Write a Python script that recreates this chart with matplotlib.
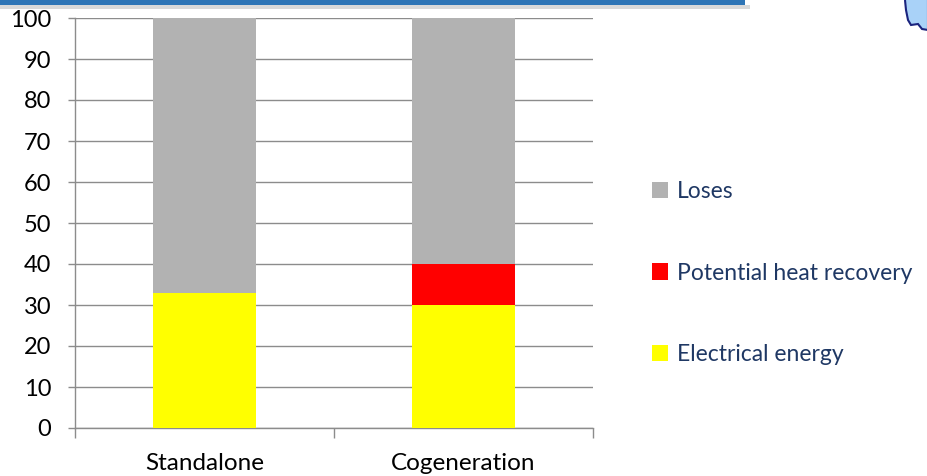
import matplotlib
matplotlib.use("Agg")
import matplotlib.pyplot as plt
from matplotlib.patches import Rectangle, Polygon
import numpy as np

categories = ["Standalone", "Cogeneration"]
electrical = [33, 30]
heat_recovery = [0, 10]
loses = [67, 60]
yticks = list(range(0, 101, 10))

plt.rcParams['font.family'] = ['Lato', 'DejaVu Sans']

W, H = 928, 476
fig = plt.figure(figsize=(W/100, H/100), dpi=100)
ax = fig.add_axes([75/W, 1-428/H, (593-75)/W, (428-18)/H])

x = np.arange(len(categories))
bw = 0.4
b1 = ax.bar(x, electrical, bw, color="#FFFF00", label="Electrical energy", zorder=3)
b2 = ax.bar(x, heat_recovery, bw, bottom=electrical, color="#FF0000", label="Potential heat recovery", zorder=3)
bottom2 = [e + h for e, h in zip(electrical, heat_recovery)]
b3 = ax.bar(x, loses, bw, bottom=bottom2, color="#B2B2B2", label="Loses", zorder=3)

ax.set_xlim(-0.5, len(categories) - 0.5)
ax.set_ylim(0, 100)
ax.set_yticks(yticks)
ax.yaxis.grid(True, color="#8C8C8C", linewidth=1, zorder=0)
ax.set_xticks(x)
ax.set_xticklabels(categories, fontsize=17.5)
ax.set_xticks(np.arange(-0.5, len(categories), 1.0), minor=True)
ax.tick_params(axis='x', which='major', length=0, pad=18)
ax.tick_params(axis='x', which='minor', length=7, color="#8C8C8C", width=1)
ax.tick_params(axis='y', length=5, color="#8C8C8C", width=1, labelsize=17, pad=12)
for s in ["top", "right"]:
    ax.spines[s].set_visible(False)
for s in ["left", "bottom"]:
    ax.spines[s].set_color("#8C8C8C")
    ax.spines[s].set_linewidth(1)

leg = fig.legend(handles=[b3, b2, b1], loc="center left",
                 bbox_to_anchor=(631/W, 1-273/H), frameon=False,
                 fontsize=16.5, labelspacing=2.65, handlelength=0.7,
                 handleheight=0.7, handletextpad=0.4)
for t in leg.get_texts():
    t.set_color("#1F3864")

# decorative banner at top
fig.patches.append(Rectangle((0, 1-5/H), 745/W, 5/H, transform=fig.transFigure,
                             facecolor="#2E75B6", edgecolor="none", zorder=5))
fig.patches.append(Rectangle((0, 1-9/H), 750/W, 4/H, transform=fig.transFigure,
                             facecolor="#D9D9D9", edgecolor="none", zorder=4))
pts = [(905, 0), (906, 10), (908, 20), (911, 25), (918, 24), (922, 29), (928, 30), (928, 0)]
fig.patches.append(Polygon([(px/W, 1-py/H) for px, py in pts], closed=False,
                           transform=fig.transFigure, facecolor="#A9D2F8",
                           edgecolor="#1A237E", linewidth=1.5, zorder=5))

fig.savefig("out.png", dpi=100)
